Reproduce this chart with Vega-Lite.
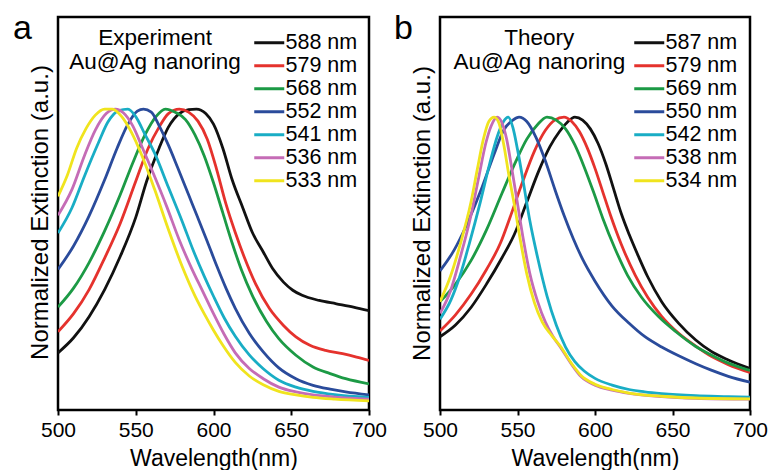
{
"$schema":"https://vega.github.io/schema/vega-lite/v6.json",
"padding":{"left":11,"top":10,"right":0,"bottom":0},
"bounds":"flush",
"spacing":71,
"config":{"font":"Liberation Sans","view":{"stroke":"black","strokeWidth":2.5},
 "text":{"color":"black"},
 "legend":{"orient":"none","title":null,"symbolType":"M-1,0H3","symbolSize":225,"symbolStrokeWidth":3,"labelFontSize":21.5,"labelColor":"black","labelOffset":13,"rowPadding":0,"padding":0}},
"datasets":{
"a":[
{"s":"588 nm","w":500,"v":0.19},{"s":"588 nm","w":510,"v":0.24},{"s":"588 nm","w":520,"v":0.31},{"s":"588 nm","w":530,"v":0.40},{"s":"588 nm","w":540,"v":0.51},{"s":"588 nm","w":550,"v":0.64},{"s":"588 nm","w":557,"v":0.76},{"s":"588 nm","w":565,"v":0.87},{"s":"588 nm","w":571,"v":0.94},{"s":"588 nm","w":578,"v":0.985},{"s":"588 nm","w":584,"v":0.998},{"s":"588 nm","w":589,"v":1.0},{"s":"588 nm","w":595,"v":0.985},{"s":"588 nm","w":600,"v":0.95},{"s":"588 nm","w":606,"v":0.87},{"s":"588 nm","w":612,"v":0.765},{"s":"588 nm","w":619,"v":0.67},{"s":"588 nm","w":625,"v":0.59},{"s":"588 nm","w":632,"v":0.525},{"s":"588 nm","w":638,"v":0.47},{"s":"588 nm","w":645,"v":0.425},{"s":"588 nm","w":651,"v":0.398},{"s":"588 nm","w":657,"v":0.381},{"s":"588 nm","w":668,"v":0.364},{"s":"588 nm","w":679,"v":0.353},{"s":"588 nm","w":690,"v":0.342},{"s":"588 nm","w":700,"v":0.33},
{"s":"579 nm","w":500,"v":0.26},{"s":"579 nm","w":510,"v":0.32},{"s":"579 nm","w":520,"v":0.40},{"s":"579 nm","w":530,"v":0.505},{"s":"579 nm","w":540,"v":0.62},{"s":"579 nm","w":550,"v":0.76},{"s":"579 nm","w":558,"v":0.87},{"s":"579 nm","w":565,"v":0.94},{"s":"579 nm","w":571,"v":0.985},{"s":"579 nm","w":578,"v":1.0},{"s":"579 nm","w":584,"v":0.99},{"s":"579 nm","w":590,"v":0.96},{"s":"579 nm","w":596,"v":0.9},{"s":"579 nm","w":602,"v":0.8},{"s":"579 nm","w":608,"v":0.685},{"s":"579 nm","w":614,"v":0.59},{"s":"579 nm","w":620,"v":0.505},{"s":"579 nm","w":627,"v":0.42},{"s":"579 nm","w":636,"v":0.337},{"s":"579 nm","w":645,"v":0.281},{"s":"579 nm","w":653,"v":0.243},{"s":"579 nm","w":662,"v":0.215},{"s":"579 nm","w":672,"v":0.198},{"s":"579 nm","w":683,"v":0.187},{"s":"579 nm","w":692,"v":0.176},{"s":"579 nm","w":700,"v":0.165},
{"s":"568 nm","w":500,"v":0.342},{"s":"568 nm","w":510,"v":0.405},{"s":"568 nm","w":520,"v":0.49},{"s":"568 nm","w":530,"v":0.595},{"s":"568 nm","w":540,"v":0.715},{"s":"568 nm","w":548,"v":0.82},{"s":"568 nm","w":556,"v":0.915},{"s":"568 nm","w":563,"v":0.975},{"s":"568 nm","w":569,"v":1.0},{"s":"568 nm","w":576,"v":0.988},{"s":"568 nm","w":582,"v":0.965},{"s":"568 nm","w":588,"v":0.915},{"s":"568 nm","w":594,"v":0.845},{"s":"568 nm","w":600,"v":0.755},{"s":"568 nm","w":606,"v":0.655},{"s":"568 nm","w":612,"v":0.555},{"s":"568 nm","w":618,"v":0.465},{"s":"568 nm","w":625,"v":0.38},{"s":"568 nm","w":634,"v":0.295},{"s":"568 nm","w":642,"v":0.237},{"s":"568 nm","w":653,"v":0.182},{"s":"568 nm","w":664,"v":0.143},{"s":"568 nm","w":675,"v":0.121},{"s":"568 nm","w":685,"v":0.104},{"s":"568 nm","w":700,"v":0.087},
{"s":"552 nm","w":500,"v":0.467},{"s":"552 nm","w":510,"v":0.545},{"s":"552 nm","w":520,"v":0.645},{"s":"552 nm","w":530,"v":0.765},{"s":"552 nm","w":538,"v":0.87},{"s":"552 nm","w":545,"v":0.95},{"s":"552 nm","w":551,"v":0.993},{"s":"552 nm","w":555,"v":1.0},{"s":"552 nm","w":560,"v":0.99},{"s":"552 nm","w":565,"v":0.945},{"s":"552 nm","w":571,"v":0.88},{"s":"552 nm","w":577,"v":0.805},{"s":"552 nm","w":584,"v":0.715},{"s":"552 nm","w":590,"v":0.638},{"s":"552 nm","w":596,"v":0.56},{"s":"552 nm","w":602,"v":0.48},{"s":"552 nm","w":608,"v":0.405},{"s":"552 nm","w":614,"v":0.338},{"s":"552 nm","w":623,"v":0.255},{"s":"552 nm","w":632,"v":0.193},{"s":"552 nm","w":642,"v":0.14},{"s":"552 nm","w":653,"v":0.104},{"s":"552 nm","w":664,"v":0.082},{"s":"552 nm","w":675,"v":0.069},{"s":"552 nm","w":685,"v":0.06},{"s":"552 nm","w":700,"v":0.05},
{"s":"541 nm","w":500,"v":0.588},{"s":"541 nm","w":509,"v":0.672},{"s":"541 nm","w":517,"v":0.777},{"s":"541 nm","w":526,"v":0.888},{"s":"541 nm","w":532,"v":0.956},{"s":"541 nm","w":539,"v":0.995},{"s":"541 nm","w":545,"v":1.0},{"s":"541 nm","w":550,"v":0.975},{"s":"541 nm","w":556,"v":0.915},{"s":"541 nm","w":562,"v":0.855},{"s":"541 nm","w":571,"v":0.74},{"s":"541 nm","w":580,"v":0.625},{"s":"541 nm","w":587,"v":0.53},{"s":"541 nm","w":594,"v":0.445},{"s":"541 nm","w":600,"v":0.378},{"s":"541 nm","w":607,"v":0.305},{"s":"541 nm","w":614,"v":0.245},{"s":"541 nm","w":623,"v":0.183},{"s":"541 nm","w":632,"v":0.137},{"s":"541 nm","w":642,"v":0.099},{"s":"541 nm","w":653,"v":0.076},{"s":"541 nm","w":664,"v":0.062},{"s":"541 nm","w":678,"v":0.051},{"s":"541 nm","w":700,"v":0.042},
{"s":"536 nm","w":500,"v":0.647},{"s":"536 nm","w":509,"v":0.733},{"s":"536 nm","w":517,"v":0.845},{"s":"536 nm","w":524,"v":0.93},{"s":"536 nm","w":531,"v":0.985},{"s":"536 nm","w":537,"v":1.0},{"s":"536 nm","w":542,"v":0.988},{"s":"536 nm","w":548,"v":0.945},{"s":"536 nm","w":554,"v":0.875},{"s":"536 nm","w":561,"v":0.79},{"s":"536 nm","w":570,"v":0.675},{"s":"536 nm","w":578,"v":0.565},{"s":"536 nm","w":586,"v":0.47},{"s":"536 nm","w":593,"v":0.395},{"s":"536 nm","w":600,"v":0.32},{"s":"536 nm","w":607,"v":0.25},{"s":"536 nm","w":614,"v":0.19},{"s":"536 nm","w":623,"v":0.138},{"s":"536 nm","w":632,"v":0.104},{"s":"536 nm","w":642,"v":0.076},{"s":"536 nm","w":653,"v":0.06},{"s":"536 nm","w":664,"v":0.05},{"s":"536 nm","w":678,"v":0.043},{"s":"536 nm","w":700,"v":0.036},
{"s":"533 nm","w":500,"v":0.71},{"s":"533 nm","w":506,"v":0.78},{"s":"533 nm","w":512,"v":0.87},{"s":"533 nm","w":518,"v":0.935},{"s":"533 nm","w":524,"v":0.98},{"s":"533 nm","w":530,"v":1.0},{"s":"533 nm","w":535,"v":1.0},{"s":"533 nm","w":541,"v":0.975},{"s":"533 nm","w":547,"v":0.925},{"s":"533 nm","w":554,"v":0.845},{"s":"533 nm","w":562,"v":0.735},{"s":"533 nm","w":571,"v":0.6},{"s":"533 nm","w":580,"v":0.475},{"s":"533 nm","w":588,"v":0.38},{"s":"533 nm","w":594,"v":0.32},{"s":"533 nm","w":600,"v":0.265},{"s":"533 nm","w":606,"v":0.215},{"s":"533 nm","w":614,"v":0.158},{"s":"533 nm","w":623,"v":0.113},{"s":"533 nm","w":632,"v":0.084},{"s":"533 nm","w":642,"v":0.062},{"s":"533 nm","w":653,"v":0.05},{"s":"533 nm","w":664,"v":0.042},{"s":"533 nm","w":678,"v":0.036},{"s":"533 nm","w":700,"v":0.03}
],
"b":[
{"s":"587 nm","w":500,"v":0.25},{"s":"587 nm","w":510,"v":0.29},{"s":"587 nm","w":520,"v":0.35},{"s":"587 nm","w":530,"v":0.43},{"s":"587 nm","w":540,"v":0.52},{"s":"587 nm","w":548,"v":0.6},{"s":"587 nm","w":556,"v":0.71},{"s":"587 nm","w":564,"v":0.82},{"s":"587 nm","w":571,"v":0.9},{"s":"587 nm","w":577,"v":0.95},{"s":"587 nm","w":582,"v":0.982},{"s":"587 nm","w":587,"v":1.0},{"s":"587 nm","w":592,"v":0.99},{"s":"587 nm","w":597,"v":0.96},{"s":"587 nm","w":602,"v":0.91},{"s":"587 nm","w":607,"v":0.84},{"s":"587 nm","w":612,"v":0.755},{"s":"587 nm","w":617,"v":0.67},{"s":"587 nm","w":622,"v":0.6},{"s":"587 nm","w":628,"v":0.525},{"s":"587 nm","w":634,"v":0.455},{"s":"587 nm","w":643,"v":0.37},{"s":"587 nm","w":654,"v":0.296},{"s":"587 nm","w":665,"v":0.239},{"s":"587 nm","w":675,"v":0.2},{"s":"587 nm","w":686,"v":0.171},{"s":"587 nm","w":700,"v":0.142},
{"s":"579 nm","w":500,"v":0.27},{"s":"579 nm","w":510,"v":0.325},{"s":"579 nm","w":520,"v":0.395},{"s":"579 nm","w":530,"v":0.48},{"s":"579 nm","w":539,"v":0.57},{"s":"579 nm","w":545,"v":0.655},{"s":"579 nm","w":553,"v":0.775},{"s":"579 nm","w":561,"v":0.885},{"s":"579 nm","w":568,"v":0.955},{"s":"579 nm","w":574,"v":0.99},{"s":"579 nm","w":580,"v":1.0},{"s":"579 nm","w":585,"v":0.985},{"s":"579 nm","w":590,"v":0.95},{"s":"579 nm","w":595,"v":0.895},{"s":"579 nm","w":600,"v":0.825},{"s":"579 nm","w":605,"v":0.745},{"s":"579 nm","w":610,"v":0.665},{"s":"579 nm","w":617,"v":0.565},{"s":"579 nm","w":626,"v":0.46},{"s":"579 nm","w":634,"v":0.385},{"s":"579 nm","w":643,"v":0.32},{"s":"579 nm","w":654,"v":0.262},{"s":"579 nm","w":665,"v":0.218},{"s":"579 nm","w":675,"v":0.183},{"s":"579 nm","w":686,"v":0.155},{"s":"579 nm","w":700,"v":0.128},
{"s":"569 nm","w":500,"v":0.37},{"s":"569 nm","w":510,"v":0.43},{"s":"569 nm","w":520,"v":0.51},{"s":"569 nm","w":530,"v":0.615},{"s":"569 nm","w":540,"v":0.74},{"s":"569 nm","w":549,"v":0.85},{"s":"569 nm","w":556,"v":0.925},{"s":"569 nm","w":563,"v":0.975},{"s":"569 nm","w":569,"v":1.0},{"s":"569 nm","w":575,"v":0.99},{"s":"569 nm","w":581,"v":0.96},{"s":"569 nm","w":587,"v":0.905},{"s":"569 nm","w":593,"v":0.83},{"s":"569 nm","w":599,"v":0.745},{"s":"569 nm","w":605,"v":0.655},{"s":"569 nm","w":613,"v":0.55},{"s":"569 nm","w":621,"v":0.46},{"s":"569 nm","w":630,"v":0.385},{"s":"569 nm","w":641,"v":0.319},{"s":"569 nm","w":652,"v":0.268},{"s":"569 nm","w":665,"v":0.217},{"s":"569 nm","w":675,"v":0.188},{"s":"569 nm","w":686,"v":0.16},{"s":"569 nm","w":700,"v":0.135},
{"s":"550 nm","w":500,"v":0.475},{"s":"550 nm","w":509,"v":0.545},{"s":"550 nm","w":517,"v":0.63},{"s":"550 nm","w":526,"v":0.745},{"s":"550 nm","w":535,"v":0.875},{"s":"550 nm","w":541,"v":0.955},{"s":"550 nm","w":547,"v":0.99},{"s":"550 nm","w":551,"v":1.0},{"s":"550 nm","w":556,"v":0.985},{"s":"550 nm","w":562,"v":0.93},{"s":"550 nm","w":568,"v":0.85},{"s":"550 nm","w":574,"v":0.755},{"s":"550 nm","w":580,"v":0.665},{"s":"550 nm","w":586,"v":0.585},{"s":"550 nm","w":592,"v":0.515},{"s":"550 nm","w":600,"v":0.44},{"s":"550 nm","w":611,"v":0.355},{"s":"550 nm","w":622,"v":0.296},{"s":"550 nm","w":632,"v":0.251},{"s":"550 nm","w":643,"v":0.215},{"s":"550 nm","w":654,"v":0.185},{"s":"550 nm","w":665,"v":0.158},{"s":"550 nm","w":675,"v":0.136},{"s":"550 nm","w":686,"v":0.115},{"s":"550 nm","w":700,"v":0.095},
{"s":"542 nm","w":500,"v":0.31},{"s":"542 nm","w":507,"v":0.375},{"s":"542 nm","w":513,"v":0.46},{"s":"542 nm","w":519,"v":0.57},{"s":"542 nm","w":526,"v":0.71},{"s":"542 nm","w":532,"v":0.84},{"s":"542 nm","w":537,"v":0.935},{"s":"542 nm","w":541,"v":0.985},{"s":"542 nm","w":544,"v":1.0},{"s":"542 nm","w":547,"v":0.965},{"s":"542 nm","w":550,"v":0.89},{"s":"542 nm","w":554,"v":0.77},{"s":"542 nm","w":558,"v":0.645},{"s":"542 nm","w":563,"v":0.52},{"s":"542 nm","w":569,"v":0.39},{"s":"542 nm","w":575,"v":0.29},{"s":"542 nm","w":581,"v":0.215},{"s":"542 nm","w":587,"v":0.165},{"s":"542 nm","w":593,"v":0.133},{"s":"542 nm","w":600,"v":0.108},{"s":"542 nm","w":611,"v":0.085},{"s":"542 nm","w":622,"v":0.07},{"s":"542 nm","w":632,"v":0.062},{"s":"542 nm","w":643,"v":0.056},{"s":"542 nm","w":665,"v":0.049},{"s":"542 nm","w":686,"v":0.046},{"s":"542 nm","w":700,"v":0.044},
{"s":"538 nm","w":500,"v":0.33},{"s":"538 nm","w":507,"v":0.41},{"s":"538 nm","w":513,"v":0.52},{"s":"538 nm","w":520,"v":0.665},{"s":"538 nm","w":525,"v":0.795},{"s":"538 nm","w":529.5,"v":0.91},{"s":"538 nm","w":533,"v":0.97},{"s":"538 nm","w":537,"v":1.0},{"s":"538 nm","w":540,"v":0.98},{"s":"538 nm","w":543,"v":0.925},{"s":"538 nm","w":546,"v":0.835},{"s":"538 nm","w":550,"v":0.705},{"s":"538 nm","w":554,"v":0.575},{"s":"538 nm","w":558,"v":0.465},{"s":"538 nm","w":563,"v":0.37},{"s":"538 nm","w":568,"v":0.3},{"s":"538 nm","w":573,"v":0.25},{"s":"538 nm","w":578,"v":0.212},{"s":"538 nm","w":585,"v":0.155},{"s":"538 nm","w":591,"v":0.114},{"s":"538 nm","w":600,"v":0.085},{"s":"538 nm","w":611,"v":0.068},{"s":"538 nm","w":622,"v":0.057},{"s":"538 nm","w":643,"v":0.046},{"s":"538 nm","w":665,"v":0.04},{"s":"538 nm","w":700,"v":0.037},
{"s":"534 nm","w":500,"v":0.37},{"s":"534 nm","w":507,"v":0.46},{"s":"534 nm","w":513,"v":0.565},{"s":"534 nm","w":520,"v":0.71},{"s":"534 nm","w":524,"v":0.82},{"s":"534 nm","w":528,"v":0.925},{"s":"534 nm","w":531.5,"v":0.985},{"s":"534 nm","w":535,"v":1.0},{"s":"534 nm","w":538,"v":0.98},{"s":"534 nm","w":541,"v":0.91},{"s":"534 nm","w":544.5,"v":0.8},{"s":"534 nm","w":548,"v":0.7},{"s":"534 nm","w":552,"v":0.575},{"s":"534 nm","w":556,"v":0.465},{"s":"534 nm","w":561,"v":0.365},{"s":"534 nm","w":566,"v":0.3},{"s":"534 nm","w":572,"v":0.255},{"s":"534 nm","w":578,"v":0.215},{"s":"534 nm","w":585,"v":0.158},{"s":"534 nm","w":591,"v":0.118},{"s":"534 nm","w":600,"v":0.088},{"s":"534 nm","w":611,"v":0.07},{"s":"534 nm","w":622,"v":0.058},{"s":"534 nm","w":643,"v":0.047},{"s":"534 nm","w":665,"v":0.041},{"s":"534 nm","w":700,"v":0.038}
]},
"hconcat":[
{"width":311,"height":393,
 "layer":[
  {"data":{"name":"a"},
   "mark":{"type":"line","strokeWidth":2.8,"interpolate":"monotone","clip":true},
   "encoding":{
    "x":{"field":"w","type":"quantitative","scale":{"domain":[500,700],"nice":false,"zero":false},
     "axis":{"title":"Wavelength(nm)","values":[500,525,550,575,600,625,650,675,700],"labelExpr":"datum.value % 50 == 0 ? datum.label : ''","domain":false,"grid":false,"tickSize":5,"tickWidth":2,"tickColor":"black","labelFontSize":21,"labelColor":"black","labelPadding":4,"labelOverlap":false,"labelFlush":false,"titleFontSize":23,"titleFontWeight":"normal","titleColor":"black","titlePadding":7}},
    "y":{"field":"v","type":"quantitative","scale":{"domain":[0,1.306],"nice":false,"zero":false},
     "axis":{"title":"Normalized Extinction (a.u.)","labels":false,"ticks":false,"domain":false,"grid":false,"titleFontSize":24,"titleFontWeight":"normal","titleColor":"black","titlePadding":6,"titleY":195}},
    "color":{"field":"s","type":"nominal","sort":null,
     "scale":{"domain":["588 nm","579 nm","568 nm","552 nm","541 nm","536 nm","533 nm"],"range":["#111111","#e5322d","#1c9a45","#2a4b9b","#19adc5","#c56cb6","#f0e41e"]},
     "legend":{"legendX":193,"legendY":15}}}},
  {"data":{"values":[{}]},
   "mark":{"type":"text","fontSize":22.5,"align":"center","baseline":"alphabetic","lineHeight":24},
   "encoding":{"x":{"datum":562.4},"y":{"datum":1.213},"text":{"value":["Experiment","Au@Ag nanoring"]}}},
  {"data":{"values":[{}]},
   "mark":{"type":"text","fontSize":34,"align":"left","baseline":"alphabetic"},
   "encoding":{"x":{"datum":471.1},"y":{"datum":1.233},"text":{"value":"a"}}}
 ]},
{"width":310,"height":393,
 "layer":[
  {"data":{"name":"b"},
   "mark":{"type":"line","strokeWidth":2.8,"interpolate":"monotone","clip":true},
   "encoding":{
    "x":{"field":"w","type":"quantitative","scale":{"domain":[500,700],"nice":false,"zero":false},
     "axis":{"title":"Wavelength(nm)","values":[500,525,550,575,600,625,650,675,700],"labelExpr":"datum.value % 50 == 0 ? datum.label : ''","domain":false,"grid":false,"tickSize":5,"tickWidth":2,"tickColor":"black","labelFontSize":21,"labelColor":"black","labelPadding":4,"labelOverlap":false,"labelFlush":false,"titleFontSize":23,"titleFontWeight":"normal","titleColor":"black","titlePadding":7}},
    "y":{"field":"v","type":"quantitative","scale":{"domain":[0,1.342],"nice":false,"zero":false},
     "axis":{"title":"Normalized Extinction (a.u.)","labels":false,"ticks":false,"domain":false,"grid":false,"titleFontSize":24,"titleFontWeight":"normal","titleColor":"black","titlePadding":6,"titleY":196}},
    "color":{"field":"s","type":"nominal","sort":null,
     "scale":{"domain":["587 nm","579 nm","569 nm","550 nm","542 nm","538 nm","534 nm"],"range":["#111111","#e5322d","#1c9a45","#2a4b9b","#19adc5","#c56cb6","#f0e41e"]},
     "legend":{"legendX":191,"legendY":15}}}},
  {"data":{"values":[{}]},
   "mark":{"type":"text","fontSize":22.5,"align":"center","baseline":"alphabetic","lineHeight":24},
   "encoding":{"x":{"datum":564.1},"y":{"datum":1.245},"text":{"value":["Theory","Au@Ag nanoring"]}}},
  {"data":{"values":[{}]},
   "mark":{"type":"text","fontSize":34,"align":"left","baseline":"alphabetic"},
   "encoding":{"x":{"datum":470.3},"y":{"datum":1.267},"text":{"value":"b"}}}
 ]}
],
"resolve":{"scale":{"color":"independent","x":"independent","y":"independent"},"legend":{"color":"independent"}}
}
